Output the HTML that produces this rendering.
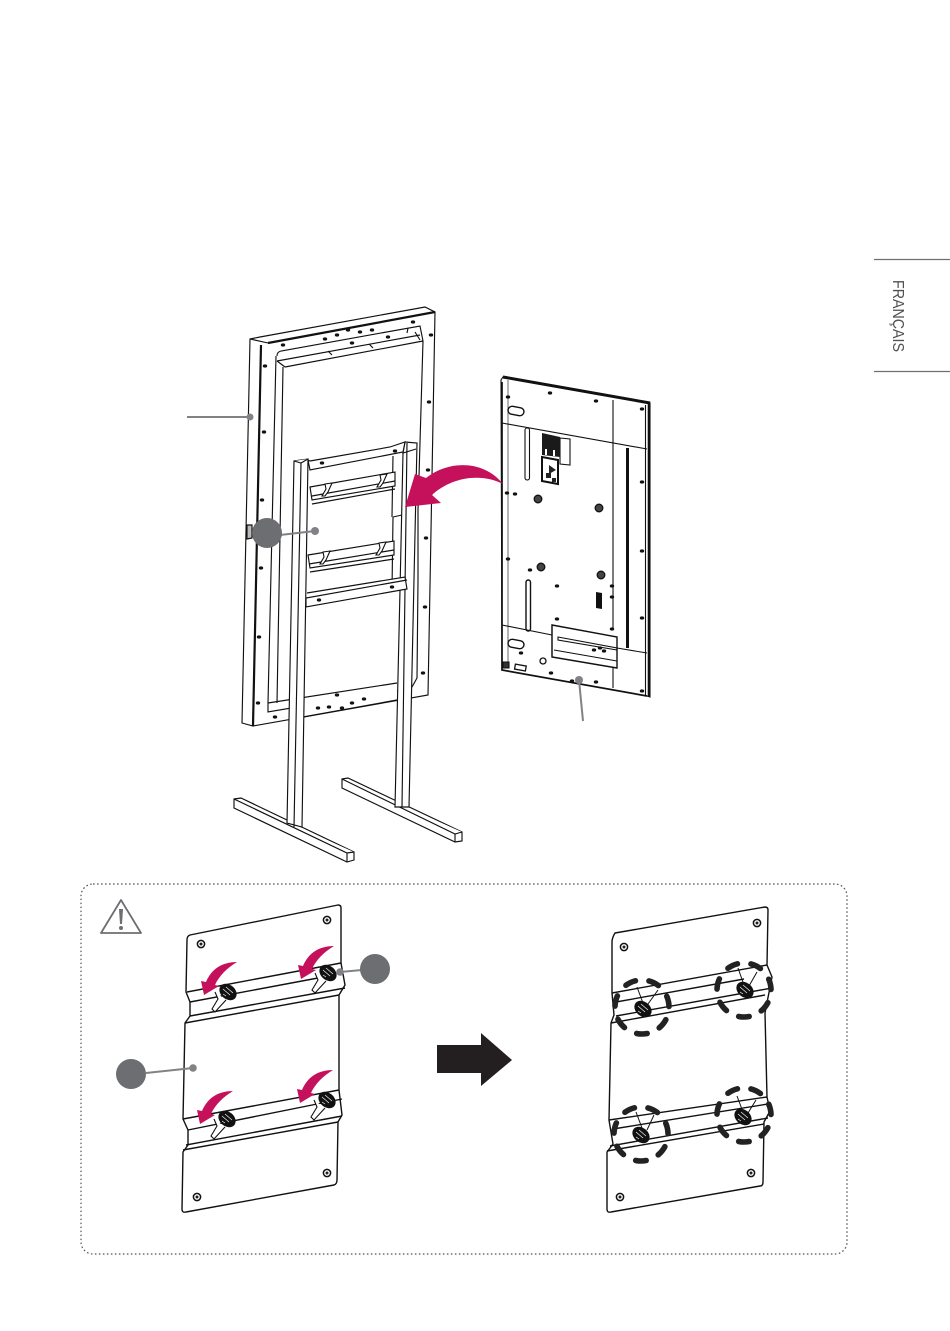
<!DOCTYPE html>
<html><head><meta charset="utf-8"><style>
html,body{margin:0;padding:0;background:#fff}
svg{display:block}
</style></head><body>
<svg width="950" height="1331" viewBox="0 0 950 1331" xmlns="http://www.w3.org/2000/svg">
<defs>
<path id="ar" d="M33,0 C17,0 7,8 2,20 L-3,19 L0,33 L15,24 L11,23 C15,14 23,6 33,0 Z" fill="#c5115c"/>
<g id="kn">
<ellipse cx="0" cy="0" rx="9.5" ry="7.2" transform="rotate(40)" fill="#111"/>
<path d="M-5,-3 L2,3 M-2,-5 L5,1 M-5,2 L-2,4" stroke="#fff" stroke-width=".6" fill="none"/>
</g>
<g id="sc"><circle r="3.6" fill="#fff" stroke="#111" stroke-width="1.5"/><circle r="1.5" fill="#222"/></g>
<g id="d"><ellipse rx="2.2" ry="1.6" fill="#111"/></g>
<circle id="dash" r="27" fill="none" stroke="#222" stroke-width="5.6" stroke-linecap="round" stroke-dasharray="10.5 13.73" transform="rotate(79)"/>
<path id="slot" d="M-13,0 L-10,7 L-16,17 L-13,20 L-2,8" fill="#fff" stroke="#111" stroke-width="1.1"/>
<path id="hook" d="M0,0 L7,-1 L3,8 L0,12 L-3,12 L1,5 Z" fill="#fff" stroke="#111" stroke-width="1.1"/>
</defs>

<!-- side tab -->
<path d="M874,259.5H950M874,371.5H950" stroke="#6f6f6f" stroke-width="1.2"/>
<text transform="translate(893,280) rotate(90)" font-family="'Liberation Sans',sans-serif" font-size="16" fill="#4f5052" textLength="72" lengthAdjust="spacingAndGlyphs">FRANÇAIS</text>

<!-- display frame -->
<g fill="none" stroke="#111" stroke-width="1.15">
<path d="M250,339 L260,337 L425,307 L435,312 L428,695 L253,726 L242,723 Z" fill="#fff"/>
<path d="M250,339 L268,343"/>
<path d="M268,343 L435,312" stroke-width="2.2"/>
<path d="M261,345 L253,726" stroke-width="2.2"/>
<path d="M277,356 Q277,352 281,351 L420,326 L423,341 L418,510 L418,580 L417,678 L412,687 L397,691 M277,361 L420,335 M285,367 L423,341 M277,361 L285,367"/>
<path d="M276,356 L268,703 L268,712 L303,706 M283,367 L277,703 M268,703 L397,683 M303,717 L397,700"/>
<path d="M413,510 L411,685"/>
<path d="M328,351 L332,355 M369,344 L373,348 M408,328 L407,333 M415,332 L420,340"/>
<path d="M247,525 L252,525 L252,538 L247,539 Z" fill="#bbb"/>
</g>
<g>
<use href="#d" x="265" y="366"/><use href="#d" x="264" y="432"/><use href="#d" x="262" y="500"/><use href="#d" x="261" y="568"/><use href="#d" x="259" y="637"/><use href="#d" x="258" y="703"/>
<use href="#d" x="431" y="335"/><use href="#d" x="429" y="402"/><use href="#d" x="428" y="470"/><use href="#d" x="426" y="538"/><use href="#d" x="425" y="607"/><use href="#d" x="423" y="673"/>
<use href="#d" x="283" y="345"/><use href="#d" x="325" y="339"/><use href="#d" x="337" y="335"/><use href="#d" x="348" y="330"/><use href="#d" x="360" y="332"/><use href="#d" x="372" y="330"/><use href="#d" x="352" y="343"/><use href="#d" x="388" y="337"/><use href="#d" x="413" y="322"/>
<use href="#d" x="337" y="695"/><use href="#d" x="318" y="708"/><use href="#d" x="329" y="707"/><use href="#d" x="342" y="708"/><use href="#d" x="352" y="703"/><use href="#d" x="364" y="699"/><use href="#d" x="275" y="717"/>
</g>

<!-- stand -->
<g fill="#fff" stroke="#111" stroke-width="1.15">
<!-- feet -->
<path d="M234,799 L241,798 L354,852 L354,860 L347,862 L234,808 Z"/>
<path d="M234,799 L347,853 L354,852 M347,853 L347,862"/>
<path d="M342,779 L348,778 L462,832 L462,841 L455,842 L342,788 Z"/>
<path d="M342,779 L455,834 L462,832 M455,834 L455,842"/>
<!-- back post -->
<path d="M405,442 L417,443 L409,807 L395,807 L400,590 L403,453 Z"/>
<path d="M407,443 L402,807 M405,442 L403,453 L416,449"/>
<!-- inner column -->
<path d="M393,456 L392,517 M393,517 L402,515 M393,517 L392,590" fill="none"/>
<!-- cross bars -->
<path d="M310,461 L390,447 L405,442 L403,452 L310,470 L308,460 Z"/>
<path d="M310,487 L395,472 L395,486 L312,500 Z"/>
<path d="M312,496 L395,481 M312,504 L395,489" fill="none"/>
<path d="M308,555 L394,541 L394,555 L310,568 Z"/>
<path d="M309,564 L394,550 M310,572 L394,559" fill="none"/>
<path d="M307,593 L405,577 L407,589 L306,607 L306,598 L407,580" />
<!-- front post -->
<path d="M294,461 L308,459 L302,827 L287,823 Z"/>
<path d="M301,463 L294,827 M294,461 L301,463 L308,459"/>
</g>
<use href="#hook" x="325" y="484"/><use href="#hook" x="380" y="475"/><use href="#hook" x="323" y="552"/><use href="#hook" x="379" y="543"/>
<use href="#d" x="322" y="463"/><use href="#d" x="395" y="451"/><use href="#d" x="392" y="587"/><use href="#d" x="319" y="600"/>

<!-- back panel -->
<g fill="none" stroke="#111" stroke-width="1.1">
<path d="M501,380 L503,377 L650,403 L650,697 L647,696 L502,670 Z" fill="#fff"/>
<path d="M503,377 L650,403" stroke-width="3"/>
<path d="M502,382 L502,670 L647,696" stroke-width="1.7"/>
<path d="M649,403 L649,697" stroke-width="2.6"/>
<path d="M645.500,405 L645.500,696"/>
<path d="M508,380 L508,665" stroke="#777"/>
<path d="M502,423 L647,449"/>
<path d="M613,400 L613,630 M613,668 L613,688"/>
<path d="M627.500,448 L627.500,648" stroke-width="3"/>
<path d="M502,625 L552,635 M617,648 L647,653"/>
<rect x="525" y="428" width="4.5" height="52" rx="2.2" stroke-width="1.1"/>
<rect x="526" y="580" width="4.5" height="51" rx="2.2" stroke-width="1.4"/>
<rect x="508" y="407" width="16" height="8" rx="4" transform="rotate(10 516 411)" stroke-width="1.4"/>
<rect x="508" y="640" width="16" height="8" rx="4" transform="rotate(10 516 644)" stroke-width="1.4"/>
<path d="M560,438 L570,439 L570,465 L560,464 Z"/>
<path d="M552,625 L617,637 L617,668 L552,657 Z" fill="#fff" stroke-width="1.4"/>
<path d="M552,625 L552,657 M558,637 L617,648 L617,650 L558,640 Z M554,650 L617,661" />
<circle cx="543" cy="661" r="3" stroke-width="1.3"/>
<rect x="515" y="665" width="11" height="5" transform="rotate(10 520 667)" stroke-width="1.3"/>
<path d="M503,662 L509,662 L509,668 L503,668 Z" fill="#333"/>
</g>
<path d="M542,433 L560,437 L560,457 L542,455 Z" fill="#1a1a1a"/>
<path d="M545,449h2v6h-2zM553,450h2v6h-2z" fill="#fff"/>
<path d="M542,457 L558,460 L558,484 L542,481 Z" fill="#fff" stroke="#111" stroke-width="2"/>
<path d="M549,465 L556,470 L549,474 Z M546,473h5v5h-5zM552,478h4v4h-4z" fill="#222"/>
<path d="M596,592 L602,593 L602,609 L596,608 Z" fill="#111"/>
<g fill="#444" stroke="#111" stroke-width="1.3">
<circle cx="538" cy="499" r="3.8"/><circle cx="599" cy="508" r="3.8"/><circle cx="541" cy="567" r="3.8"/><circle cx="601" cy="575" r="3.8"/>
</g>
<g>
<use href="#d" x="550" y="393"/><use href="#d" x="596" y="401"/><use href="#d" x="642" y="409"/><use href="#d" x="642" y="482"/><use href="#d" x="507" y="493"/><use href="#d" x="515" y="494"/>
<use href="#d" x="642" y="551"/><use href="#d" x="642" y="618"/><use href="#d" x="642" y="691"/><use href="#d" x="551" y="673"/><use href="#d" x="572" y="681"/><use href="#d" x="596" y="682"/>
<use href="#d" x="508" y="559"/><use href="#d" x="530" y="570"/><use href="#d" x="557" y="586"/><use href="#d" x="557" y="619"/><use href="#d" x="612" y="586"/><use href="#d" x="612" y="597"/><use href="#d" x="612" y="629"/>
<use href="#d" x="600" y="648"/><use href="#d" x="594" y="650"/><use href="#d" x="604" y="651"/><use href="#d" x="521" y="653"/><use href="#d" x="508" y="397"/>
</g>

<!-- big pink arrow -->
<path d="M503,484 C485,461 450,459 426,478 L415,474 L405,507 L441,503 L432,495 C450,478 480,472 503,484 Z" fill="#c5115c"/>

<!-- leaders top -->
<g stroke="#808285" stroke-width="2" fill="#808285">
<path d="M187,417 H250" fill="none"/><circle cx="250" cy="417" r="3.5" stroke="none"/>
<path d="M280,535 L315,531" fill="none"/><circle cx="315" cy="531" r="4" stroke="none"/>
<path d="M583,721 L579,680" fill="none"/><circle cx="579" cy="680" r="4" stroke="none"/>
</g>
<circle cx="267" cy="533" r="15" fill="#6d6e71"/>

<!-- caution box -->
<rect x="81" y="884" width="766" height="370" rx="12" fill="none" stroke="#555" stroke-width="1.2" stroke-dasharray="1.6 2.4"/>
<path d="M121,900 L101,933 H141 Z" fill="none" stroke="#6d6e71" stroke-width="1.8" stroke-linejoin="round"/>
<path d="M119,909 H123 L122,924 H120 Z" fill="#6d6e71"/><circle cx="121" cy="928" r="2" fill="#6d6e71"/>

<!-- left plate -->
<g fill="#fff" stroke="#111" stroke-width="1.4" stroke-linejoin="round">
<path d="M187,940 Q187,936 190,935 L338,905 Q341,905 341,908 L341,963 L345,985 L339,995 L339,1090 L342,1115 L338,1122 L337,1180 Q337,1184 334,1185 L186,1212 Q182,1213 182,1209 L183,1152 L188,1145 L188,1130 L183,1119 L185,1023 L190,1016 L190,1002 L186,992 Z"/>
<path d="M187,992 L341,963 M190,1002 L318,978 M190,1016 L345,988 M185,1023 L339,995 M183,1119 L339,1090 M188,1130 L342,1099 M186,1145 L342,1116 M183,1150 L338,1122" fill="none"/>
</g>
<use href="#slot" x="228" y="992"/><use href="#slot" x="328" y="973"/><use href="#slot" x="227" y="1119"/><use href="#slot" x="327" y="1100"/>
<use href="#kn" x="228" y="992"/><use href="#kn" x="328" y="973"/><use href="#kn" x="227" y="1119"/><use href="#kn" x="327" y="1100"/>
<use href="#sc" x="201" y="944"/><use href="#sc" x="327" y="920"/><use href="#sc" x="197" y="1197"/><use href="#sc" x="327" y="1173"/>
<use href="#ar" x="204" y="962"/><use href="#ar" x="301" y="946"/><use href="#ar" x="200" y="1091"/><use href="#ar" x="300" y="1070"/>

<!-- left leaders -->
<g stroke="#808285" stroke-width="2" fill="#808285">
<path d="M362,970 L340,972" fill="none"/><circle cx="340" cy="972" r="3.8" stroke="none"/>
<path d="M146,1073 L193,1068" fill="none"/><circle cx="193" cy="1068" r="3.8" stroke="none"/>
</g>
<circle cx="375" cy="969" r="15" fill="#6d6e71"/>
<circle cx="131" cy="1074" r="15" fill="#6d6e71"/>

<!-- black arrow -->
<path d="M437,1045 H481 V1033 L512,1060 L481,1086 V1073 H437 Z" fill="#231f20"/>

<!-- right plate -->
<g fill="#fff" stroke="#111" stroke-width="1.4" stroke-linejoin="round">
<path d="M612,942 Q612,938 615,933 L765,907 Q768,907 768,910 L767,965 L772,977 L765,1013 L767,1097 L770,1111 L764,1122 L763,1182 Q763,1186 760,1186 L611,1212 Q607,1213 607,1209 L607,1152 L613,1144 L609,1120 L611,1023 L614,1015 L612,993 Z"/>
<path d="M612,993 L767,965 M616,1002 L744,979 M616,1016 L772,988 M611,1023 L765,995 M609,1120 L767,1097 M613,1129 L768,1104 M610,1146 L768,1118 M607,1151 L764,1124" fill="none"/>
<path d="M637,987 L643,1003 M658,990 L648,1004 M738,968 L744,985 M757,972 L749,986 M636,1112 L642,1128 M654,1115 L647,1130 M737,1096 L743,1112 M756,1100 L748,1113" fill="none" stroke-width="1"/>
</g>
<use href="#kn" x="643" y="1009"/><use href="#kn" x="745" y="990"/><use href="#kn" x="641" y="1135"/><use href="#kn" x="743" y="1117"/>
<use href="#sc" x="624" y="947"/><use href="#sc" x="757" y="923"/><use href="#sc" x="620" y="1197"/><use href="#sc" x="751" y="1173"/>
<g transform="translate(642,1007)"><use href="#dash"/></g>
<g transform="translate(744,990)"><use href="#dash"/></g>
<g transform="translate(641,1134)"><use href="#dash"/></g>
<g transform="translate(744,1115)"><use href="#dash"/></g>
</svg>
</body></html>
